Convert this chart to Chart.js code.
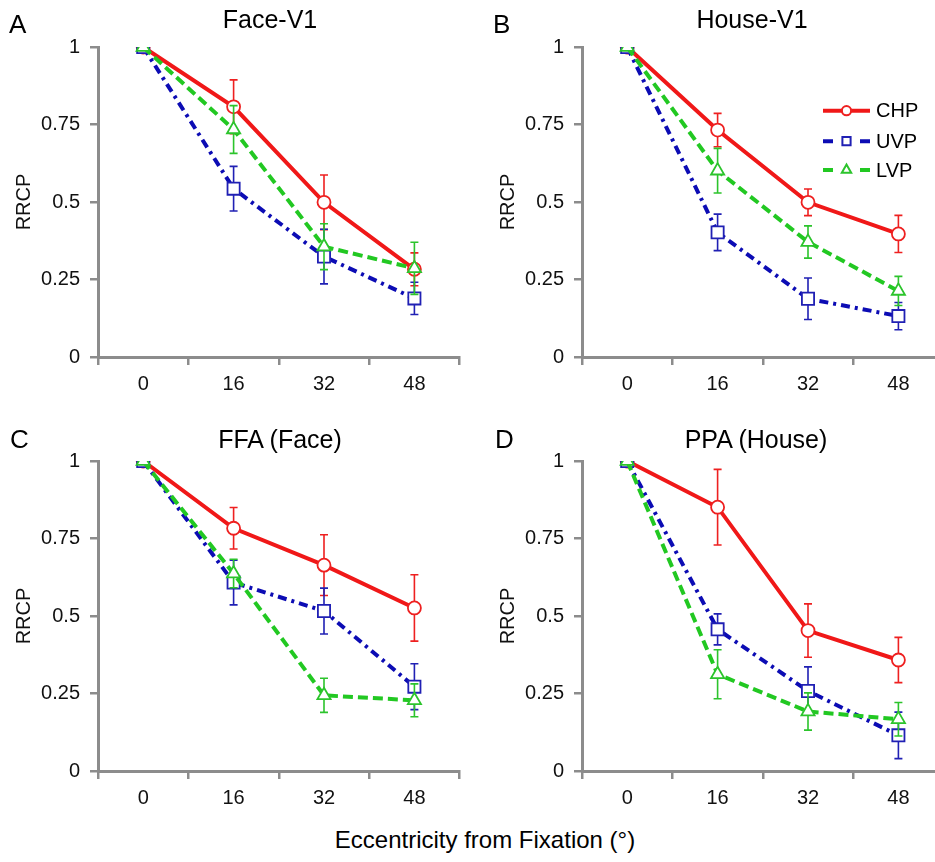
<!DOCTYPE html>
<html>
<head>
<meta charset="utf-8">
<script src="https://cdn.jsdelivr.net/npm/chart.js@4/dist/chart.umd.min.js"></script>
<style>
html, body { margin: 0; padding: 0; width: 935px; height: 862px; overflow: hidden; background: #fff; }
canvas { position: absolute; }
.t { position: absolute; font-family: 'Liberation Sans', Arial, sans-serif; line-height: 1; white-space: nowrap; color: #000; }
</style>
</head>
<body>
<canvas id="cA" width="470" height="410" style="left:0px;top:0px"></canvas>
<canvas id="cB" width="470" height="410" style="left:484px;top:0px"></canvas>
<canvas id="cC" width="470" height="410" style="left:0px;top:414px"></canvas>
<canvas id="cD" width="470" height="410" style="left:484px;top:414px"></canvas>
<script>
// ---------- data ----------
const categories = ['0', '16', '32', '48'];
const yTickLabels = ['0', '0.25', '0.5', '0.75', '1'];
const seriesNames = ['CHP', 'UVP', 'LVP'];
const panelTitles = ['Face-V1', 'House-V1', 'FFA (Face)', 'PPA (House)'];
const panelLetters = ['A', 'B', 'C', 'D'];
const xAxisTitle = 'Eccentricity from Fixation (°)';
const yAxisTitle = 'RRCP';

// Panel A: Face-V1
const faceV1_CHP = [1, 0.807, 0.499, 0.283];
const faceV1_CHP_err = [0, 0.087, 0.088, 0.053];
const faceV1_UVP = [1, 0.543, 0.324, 0.189];
const faceV1_UVP_err = [0, 0.072, 0.088, 0.052];
const faceV1_LVP = [1, 0.734, 0.356, 0.286];
const faceV1_LVP_err = [0, 0.077, 0.074, 0.084];

// Panel B: House-V1
const houseV1_CHP = [1, 0.732, 0.499, 0.397];
const houseV1_CHP_err = [0, 0.054, 0.043, 0.060];
const houseV1_UVP = [1, 0.402, 0.188, 0.132];
const houseV1_UVP_err = [0, 0.059, 0.067, 0.044];
const houseV1_LVP = [1, 0.601, 0.371, 0.213];
const houseV1_LVP_err = [0, 0.072, 0.052, 0.047];

// Panel C: FFA (Face)
const ffa_CHP = [1, 0.783, 0.664, 0.526];
const ffa_CHP_err = [0, 0.067, 0.098, 0.107];
const ffa_UVP = [1, 0.608, 0.516, 0.272];
const ffa_UVP_err = [0, 0.072, 0.074, 0.074];
const ffa_LVP = [1, 0.637, 0.244, 0.228];
const ffa_LVP_err = [0, 0.046, 0.055, 0.053];

// Panel D: PPA (House)
const ppa_CHP = [1, 0.851, 0.453, 0.358];
const ppa_CHP_err = [0, 0.122, 0.086, 0.073];
const ppa_UVP = [1, 0.457, 0.258, 0.115];
const ppa_UVP_err = [0, 0.050, 0.078, 0.075];
const ppa_LVP = [1, 0.312, 0.192, 0.167];
const ppa_LVP_err = [0, 0.079, 0.060, 0.054];

// ---------- styles ----------
const FONT = "'Liberation Sans', Arial, sans-serif";
const AXIS_COLOR = '#8c8c8c';
const seriesStyles = [
  { line: '#f01818', mark: '#ee2020', dash: [], point: 'circle', radius: 6.5, order: 3, legR: 4.6 },
  { line: '#0c0cb4', mark: '#2020b4', dash: [9, 5, 3, 5], point: 'rect', radius: 8.6, order: 2, legR: 5.8 },
  { line: '#22c822', mark: '#2cc42c', dash: [10, 5], point: 'triangle', radius: 7.6, order: 1, legR: 5.4 }
];

const panels = [
  { canvas: 'cA', values: [faceV1_CHP, faceV1_UVP, faceV1_LVP], errs: [faceV1_CHP_err, faceV1_UVP_err, faceV1_LVP_err], legend: false },
  { canvas: 'cB', values: [houseV1_CHP, houseV1_UVP, houseV1_LVP], errs: [houseV1_CHP_err, houseV1_UVP_err, houseV1_LVP_err], legend: true },
  { canvas: 'cC', values: [ffa_CHP, ffa_UVP, ffa_LVP], errs: [ffa_CHP_err, ffa_UVP_err, ffa_LVP_err], legend: false },
  { canvas: 'cD', values: [ppa_CHP, ppa_UVP, ppa_LVP], errs: [ppa_CHP_err, ppa_UVP_err, ppa_LVP_err], legend: false }
];

// error bars drawn just before each dataset (so markers cover the middle)
const errorBarPlugin = {
  id: 'errorBars',
  beforeDatasetDraw(chart, args) {
    const ds = chart.data.datasets[args.index];
    if (!ds.errors) return;
    const ys = chart.scales.y;
    const ctx = chart.ctx;
    ctx.save();
    ctx.strokeStyle = ds.pointBorderColor;
    ctx.lineWidth = 1.6;
    ctx.setLineDash([]);
    args.meta.data.forEach((pt, i) => {
      const e = ds.errors[i];
      if (!e) return;
      const v = ds.data[i];
      const yTop = ys.getPixelForValue(v + e);
      const yBot = ys.getPixelForValue(v - e);
      const x = pt.x;
      const cw = 4;
      ctx.beginPath();
      ctx.moveTo(x, yTop); ctx.lineTo(x, yBot);
      ctx.moveTo(x - cw, yTop); ctx.lineTo(x + cw, yTop);
      ctx.moveTo(x - cw, yBot); ctx.lineTo(x + cw, yBot);
      ctx.stroke();
    });
    ctx.restore();
  }
};

// legend (panel B)
const legendPlugin = {
  id: 'customLegend',
  afterDraw(chart, args, opts) {
    if (!opts || !opts.show) return;
    const ctx = chart.ctx;
    const x0 = 339, x1 = 386, xm = (x0 + x1) / 2, xt = 392;
    const rows = [110.7, 141.2, 170];
    ctx.save();
    seriesNames.forEach((name, i) => {
      const st = seriesStyles[i];
      const y = rows[i];
      ctx.strokeStyle = st.line;
      ctx.lineWidth = 4;
      ctx.setLineDash([]);
      ctx.beginPath();
      if (st.dash.length) {
        ctx.moveTo(x0, y); ctx.lineTo(x0 + 10, y);
        ctx.moveTo(x1 - 10, y); ctx.lineTo(x1, y);
      } else {
        ctx.moveTo(x0, y); ctx.lineTo(x1, y);
      }
      ctx.stroke();
      ctx.fillStyle = '#fff';
      ctx.strokeStyle = st.mark;
      ctx.lineWidth = 2;
      Chart.helpers.drawPoint(ctx, { pointStyle: st.point, radius: st.legR, borderWidth: 2, rotation: 0 }, xm, y);
      ctx.fillStyle = '#000';
      ctx.font = '20px ' + FONT;
      ctx.textBaseline = 'middle';
      ctx.textAlign = 'left';
      ctx.fillText(name, xt, y + 1);
    });
    ctx.restore();
  }
};

panels.forEach(p => {
  const datasets = seriesNames.map((name, i) => {
    const st = seriesStyles[i];
    return {
      label: name,
      data: p.values[i],
      errors: p.errs[i],
      borderColor: st.line,
      borderWidth: 4,
      borderDash: st.dash,
      borderCapStyle: 'butt',
      tension: 0,
      fill: false,
      pointStyle: st.point,
      pointRadius: st.radius,
      pointBackgroundColor: '#ffffff',
      pointBorderColor: st.mark,
      pointBorderWidth: 1.8,
      order: st.order
    };
  });
  new Chart(document.getElementById(p.canvas), {
    type: 'line',
    data: { labels: categories, datasets: datasets },
    plugins: [errorBarPlugin, legendPlugin],
    options: {
      responsive: false,
      animation: false,
      events: [],
      layout: { padding: { top: 47, right: 10, left: 0, bottom: 0 } },
      plugins: {
        legend: { display: false },
        tooltip: { enabled: false },
        title: { display: false },
        customLegend: { show: p.legend }
      },
      scales: {
        x: {
          type: 'category',
          offset: true,
          grid: { offset: true, drawOnChartArea: false, drawTicks: true, tickLength: 8, color: AXIS_COLOR, lineWidth: 2.5 },
          border: { display: true, color: AXIS_COLOR, width: 3 },
          ticks: { font: { family: FONT, size: 20 }, color: '#111', padding: 7, maxRotation: 0 },
          afterFit: s => { s.height = 53; }
        },
        y: {
          min: 0, max: 1,
          ticks: {
            stepSize: 0.25,
            font: { family: FONT, size: 20 },
            color: '#111',
            padding: 10,
            callback: (v, i) => yTickLabels[i]
          },
          grid: { drawOnChartArea: false, drawTicks: true, tickLength: 8, color: AXIS_COLOR, lineWidth: 2.5 },
          border: { display: true, color: AXIS_COLOR, width: 3 },
          title: { display: true, text: yAxisTitle, font: { family: FONT, size: 20 }, color: '#111', padding: { top: 12, bottom: 0 } },
          afterFit: s => { s.width = 98; }
        }
      }
    }
  });
});

// ---------- text outside the plot areas ----------
const textLayout = [
  // panel titles (centered)
  { text: panelTitles[0], x: 270, y: 7, size: 25, center: true },
  { text: panelTitles[1], x: 752, y: 7, size: 25, center: true },
  { text: panelTitles[2], x: 280, y: 427, size: 25, center: true },
  { text: panelTitles[3], x: 756, y: 427, size: 25, center: true },
  // panel letters
  { text: panelLetters[0], x: 9, y: 11, size: 26 },
  { text: panelLetters[1], x: 493, y: 11, size: 26 },
  { text: panelLetters[2], x: 10, y: 426, size: 26 },
  { text: panelLetters[3], x: 495, y: 426, size: 26 },
  // shared x-axis title
  { text: xAxisTitle, x: 485, y: 828, size: 24, center: true }
];
textLayout.forEach(t => {
  const d = document.createElement('div');
  d.className = 't';
  d.textContent = t.text;
  d.style.left = t.x + 'px';
  d.style.top = t.y + 'px';
  d.style.fontSize = t.size + 'px';
  if (t.center) d.style.transform = 'translateX(-50%)';
  document.body.appendChild(d);
});
</script>
</body>
</html>
